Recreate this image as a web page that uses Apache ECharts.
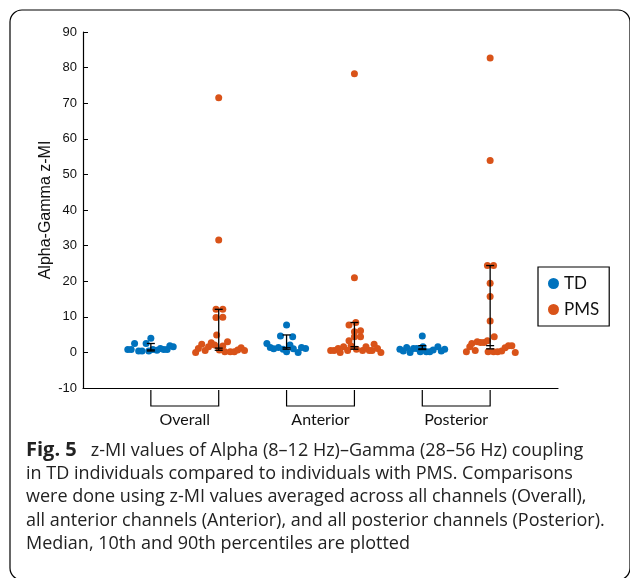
<!DOCTYPE html>
<html>
<head>
<meta charset="utf-8">
<script src="https://cdn.jsdelivr.net/npm/echarts@6/dist/echarts.min.js"></script>
<style>
  html, body { margin: 0; padding: 0; background: #fff; }
  #chart { width: 630px; height: 578px; }
</style>
</head>
<body>
<div id="chart"></div>
<script>
// groups along the x axis
const groupNames = ['Overall', 'Anterior', 'Posterior']
const tdPos = [1, 3, 5]
const pmsPos = [2, 4, 6]

// z-MI values, with the swarm offsets (x units) of each dot
const tdOverall = [0.8, 0.8, 2.5, 0.4, 0.4, 2.5, 0.4, 4.0, 0.8, 0.6, 1.1, 0.8, 0.8, 1.9, 1.6]
const tdOverallJit = [-0.34, -0.29, -0.24, -0.18, -0.13, -0.07, -0.03, 0, 0.03, 0.09, 0.14, 0.19, 0.24, 0.28, 0.33]
const tdAnterior = [2.5, 1.4, 1.0, 1.4, 4.6, 0.9, 7.7, 0.2, 2.1, 4.4, 1.0, 0.0, 1.4, 1.1]
const tdAnteriorJit = [-0.29, -0.24, -0.19, -0.12, -0.09, -0.05, 0, 0, 0.05, 0.09, 0.10, 0.17, 0.22, 0.28]
const tdPosterior = [0.9, 0.4, 1.4, 0.0, 1.1, 1.1, 0.2, 4.6, 1.6, 0.2, 0.2, 0.7, 1.6, 0.4, 0.9]
const tdPosteriorJit = [-0.33, -0.28, -0.23, -0.18, -0.13, -0.08, -0.03, 0, 0.01, 0.06, 0.11, 0.16, 0.23, 0.28, 0.33]

const pmsOverall = [0.0, 1.1, 2.3, 0.5, 1.6, 2.7, 2.1, 4.9, 12.1, 12.1, 9.8, 9.9, 0.7, 1.8, 3.0, 0.2, 0.2, 0.2, 0.7, 1.3, 0.5, 71.5, 31.6]
const pmsOverallJit = [-0.34, -0.30, -0.25, -0.20, -0.15, -0.11, -0.06, -0.03, -0.04, 0.06, -0.04, 0.06, 0.01, 0.06, 0.13, 0.09, 0.17, 0.23, 0.28, 0.33, 0.38, 0, 0]
const pmsAnterior = [0.5, 0.5, 1.1, 0.0, 1.6, 0.5, 3.3, 7.7, 1.8, 8.4, 5.8, 6.1, 4.4, 4.4, 0.9, 0.5, 1.6, 0.5, 0.5, 2.3, 1.1, 0.0, 78.3, 21.0]
const pmsAnteriorJit = [-0.35, -0.30, -0.24, -0.21, -0.16, -0.10, -0.08, -0.08, -0.05, 0.02, 0, 0.09, 0, 0.09, 0.03, 0.12, 0.17, 0.22, 0.26, 0.29, 0.34, 0.39, 0, 0]
const pmsPosterior = [0.2, 1.6, 2.5, 0.5, 3.0, 2.8, 2.8, 3.3, 4.4, 24.4, 24.4, 19.4, 15.7, 8.8, 0.2, 0.2, 0.2, 0.4, 1.3, 1.9, 1.9, 0.0, 82.7, 53.9]
const pmsPosteriorJit = [-0.35, -0.30, -0.27, -0.22, -0.19, -0.14, -0.09, -0.04, 0.06, -0.04, 0.05, 0, 0, 0, -0.03, 0.05, 0.11, 0.17, 0.22, 0.27, 0.32, 0.37, 0, 0]

// 10th percentile, median, 90th percentile per group
const tdP10 = [0.4, 0.9, 0.8]
const tdMedian = [0.7, 1.3, 1.0]
const tdP90 = [2.5, 4.9, 1.9]
const pmsP10 = [0.6, 0.9, 1.0]
const pmsMedian = [1.2, 1.6, 1.9]
const pmsP90 = [12.1, 8.4, 24.4]

const yTicks = { min: -10, max: 90, interval: 10 }

const captionLines = [
  '{b|Fig. 5}   z-MI values of Alpha (8–12 Hz)–Gamma (28–56 Hz) coupling',
  'in TD individuals compared to individuals with PMS. Comparisons',
  'were done using z-MI values averaged across all channels (Overall),',
  'all anterior channels (Anterior), and all posterior channels (Posterior).',
  'Median, 10th and 90th percentiles are plotted'
]

const toPoints = (pos, vals, jit) => vals.map((v, i) => [pos + jit[i], v])

const tdData = [
  ...toPoints(tdPos[0], tdOverall, tdOverallJit),
  ...toPoints(tdPos[1], tdAnterior, tdAnteriorJit),
  ...toPoints(tdPos[2], tdPosterior, tdPosteriorJit)
]
const pmsData = [
  ...toPoints(pmsPos[0], pmsOverall, pmsOverallJit),
  ...toPoints(pmsPos[1], pmsAnterior, pmsAnteriorJit),
  ...toPoints(pmsPos[2], pmsPosterior, pmsPosteriorJit)
]

const barData = []
groupNames.forEach((g, i) => {
  barData.push([tdPos[i], tdP10[i], tdMedian[i], tdP90[i]])
  barData.push([pmsPos[i], pmsP10[i], pmsMedian[i], pmsP90[i]])
})
const bracketData = groupNames.map((g, i) => [tdPos[i], pmsPos[i], yTicks.min])

// percentile bar with caps
const renderBar = (params, api) => {
  const x = api.value(0)
  const lo = api.coord([x, api.value(1)])
  const md = api.coord([x, api.value(2)])
  const hi = api.coord([x, api.value(3)])
  const w = 4
  const style = { stroke: '#000', lineWidth: 1.3 }
  const cap = p => ({ type: 'line', shape: { x1: p[0] - w, y1: p[1], x2: p[0] + w, y2: p[1] }, style })
  return {
    type: 'group',
    children: [
      { type: 'line', shape: { x1: lo[0], y1: lo[1], x2: hi[0], y2: hi[1] }, style },
      cap(lo), cap(md), cap(hi)
    ]
  }
}

// group bracket under the x axis, with its label
const renderBracket = (params, api) => {
  const a = api.coord([api.value(0), api.value(2)])
  const b = api.coord([api.value(1), api.value(2)])
  const y0 = a[1] + 2
  const y1 = a[1] + 18
  return {
    type: 'group',
    children: [
      {
        type: 'polyline',
        shape: { points: [[a[0], y0], [a[0], y1], [b[0], y1], [b[0], y0]] },
        style: { stroke: '#000', lineWidth: 1.2, fill: null }
      },
      {
        type: 'text',
        x: (a[0] + b[0]) / 2,
        y: a[1] + 32,
        style: {
          text: groupNames[params.dataIndex],
          fontFamily: 'Lato',
          fontSize: 16,
          fill: '#111',
          align: 'center',
          verticalAlign: 'middle'
        }
      }
    ]
  }
}

const chart = echarts.init(document.getElementById('chart'), null, { renderer: 'canvas' })

const option = {
  animation: false,
  backgroundColor: '#fff',
  grid: { left: 83, right: 72, top: 32, bottom: 190, outerBoundsMode: 'none' },
  xAxis: {
    type: 'value',
    min: 0,
    max: 7,
    axisLine: { show: true, onZero: false, lineStyle: { color: '#000', width: 1.2 } },
    axisTick: { show: false },
    axisLabel: { show: false },
    splitLine: { show: false }
  },
  yAxis: {
    type: 'value',
    min: yTicks.min,
    max: yTicks.max,
    interval: yTicks.interval,
    name: 'Alpha-Gamma z-MI',
    nameLocation: 'middle',
    nameGap: 29,
    nameMoveOverlap: false,
    nameTextStyle: { fontFamily: 'Liberation Sans', fontSize: 16, color: '#111' },
    axisLine: { show: true, onZero: false, lineStyle: { color: '#000', width: 1.2 } },
    axisTick: { show: true, inside: true, length: 5, lineStyle: { color: '#000' } },
    axisLabel: { fontFamily: 'Liberation Sans', fontSize: 13, color: '#111', margin: 6 },
    splitLine: { show: false }
  },
  legend: {
    data: ['TD', 'PMS'],
    orient: 'vertical',
    left: 538,
    top: 267,
    icon: 'circle',
    itemWidth: 11,
    itemHeight: 11,
    itemGap: 9,
    padding: [8, 10, 8, 10],
    borderColor: '#000',
    borderWidth: 1.2,
    borderRadius: 0,
    textStyle: { fontFamily: 'Lato', fontSize: 17, color: '#111' }
  },
  graphic: [
    {
      type: 'rect',
      shape: { x: 10, y: 10, width: 620, height: 570, r: 12 },
      style: { fill: null, stroke: '#000', lineWidth: 1.2 },
      silent: true
    },
    {
      type: 'text',
      left: 26,
      top: 439,
      style: {
        text: captionLines.join('\n'),
        fontFamily: 'Open Sans',
        fontSize: 18,
        lineHeight: 23.3,
        fill: '#222',
        rich: {
          b: { fontFamily: 'Open Sans', fontSize: 20, fontWeight: 'bold', fill: '#222', lineHeight: 23.3 }
        }
      }
    }
  ],
  series: [
    {
      name: 'TD',
      type: 'scatter',
      data: tdData,
      symbolSize: 7,
      itemStyle: { color: '#0072BD', opacity: 1 },
      z: 2
    },
    {
      name: 'PMS',
      type: 'scatter',
      data: pmsData,
      symbolSize: 7,
      itemStyle: { color: '#D95319', opacity: 1 },
      z: 2
    },
    {
      type: 'custom',
      renderItem: renderBar,
      data: barData,
      encode: { x: 0, y: [1, 2, 3] },
      z: 5,
      silent: true
    },
    {
      type: 'custom',
      renderItem: renderBracket,
      data: bracketData,
      encode: { x: [0, 1], y: 2 },
      clip: false,
      silent: true
    }
  ]
}

chart.setOption(option)
window.addEventListener('resize', () => chart.resize())
</script>
</body>
</html>
